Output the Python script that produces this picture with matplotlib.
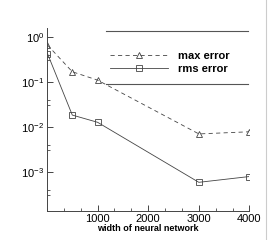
import matplotlib as mpl
import matplotlib.pyplot as plt
from matplotlib.lines import Line2D
from matplotlib.ticker import FixedLocator, MultipleLocator, NullFormatter

mpl.rcParams['font.family'] = ['Liberation Sans', 'DejaVu Sans']
mpl.rcParams['mathtext.default'] = 'regular'

# data
width = [10, 500, 1000, 3000, 4000]
max_error = [0.65, 0.166, 0.108, 0.0069, 0.0077]
rms_error = [0.42, 0.0181, 0.0125, 0.00058, 0.00078]

fig = plt.figure(figsize=(2.7, 2.4), dpi=100)
ax = fig.add_axes([0.174, 0.121, 0.750, 0.762])

ax.plot(width, max_error, ls=(0, (5, 4)), lw=0.6, color='#444444',
        marker='^', ms=4.5, mfc='none', mew=0.6, label='max error')
ax.plot(width, rms_error, ls='-', lw=0.6, color='#444444',
        marker='s', ms=4.5, mfc='none', mew=0.6, label='rms error')

ax.set_yscale('log')
ax.set_xlim(0, 4000)
ax.set_ylim(1.34e-4, 1.55)

ax.spines['top'].set_visible(False)
ax.spines['right'].set_visible(False)
for s in ['left', 'bottom']:
    ax.spines[s].set_linewidth(0.7)
    ax.spines[s].set_color('#444444')

ax.set_xticks([1000, 2000, 3000, 4000])
ax.xaxis.set_minor_locator(MultipleLocator(1000 / 3))
ax.set_yticks([1e-3, 1e-2, 1e-1, 1e0])
minors = []
for k in [-4, -3, -2, -1, 0]:
    minors += [0.3 * 10.0 ** k, 0.4 * 10.0 ** k]
ax.yaxis.set_minor_locator(FixedLocator(minors))
ax.yaxis.set_minor_formatter(NullFormatter())
ax.tick_params(which='both', direction='in', color='#444444', labelsize=8, pad=2)
ax.tick_params(which='major', length=4, width=0.7)
ax.tick_params(which='minor', length=2.5, width=0.6)
ax.tick_params(axis='x', pad=2.5)

ax.set_xlabel('width of neural network', fontsize=6.5, fontweight='bold', labelpad=0)

leg = ax.legend(loc='upper left', bbox_to_anchor=(0.262, 0.93), frameon=False,
                handlelength=5.2, handletextpad=0.9, labelspacing=0.3,
                prop={'weight': 'bold', 'size': 8})

# legend box is drawn with a top and bottom rule only
for yy in [1 - 30.7 / 240, 1 - 84 / 240]:
    fig.add_artist(Line2D([106 / 270, 248 / 270], [yy, yy], lw=0.8, color='#555555'))
fig.add_artist(Line2D([266 / 270, 266 / 270], [0, 1], lw=0.8, color='#cccccc'))

plt.savefig('out.png', dpi=100)
